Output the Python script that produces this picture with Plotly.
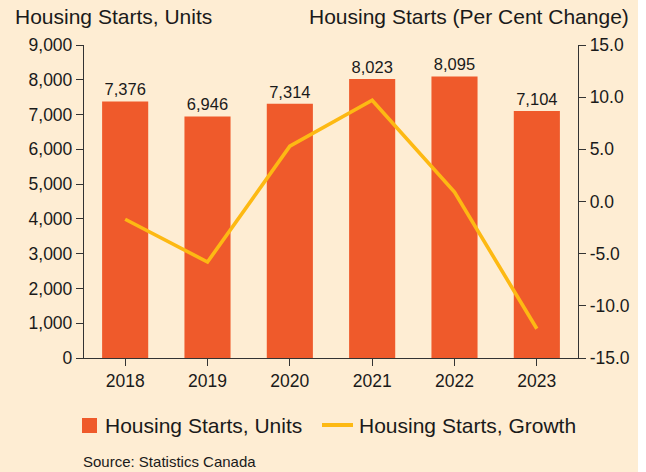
import plotly.graph_objects as go

years = ["2018", "2019", "2020", "2021", "2022", "2023"]
units = [7376, 6946, 7314, 8023, 8095, 7104]
growth = [-1.7, -5.8, 5.3, 9.7, 0.9, -12.2]
right_ticks = [15, 10, 5, 0, -5, -10, -15]
right_tick_labels = ["15.0", "10.0", "5.0", "0.0", "-5.0", "-10.0", "-15.0"]

FONT = "Liberation Sans, Arial, sans-serif"
BG = "#FEEDD3"
BAR = "#EF5A2B"
LINE = "#FDB913"
AX = "#333333"
TXT = "#1a1a1a"

W, H = 646, 472
L, R, T, B = 84, 68, 45, 114
PW, PH = W - L - R, H - T - B


def px_x(p):
    return (p - L) / PW


def px_y(p):
    return (H - B - p) / PH


fig = go.Figure()
fig.add_trace(go.Bar(
    x=years, y=units, name="Housing Starts, Units",
    marker=dict(color=BAR, line=dict(width=0)),
    width=0.56,
    text=[f"{v:,}" for v in units], textposition="outside",
    textfont=dict(family=FONT, size=16.5, color=TXT),
    cliponaxis=False, showlegend=False,
))
fig.add_trace(go.Scatter(
    x=years, y=growth, name="Housing Starts, Growth", yaxis="y2",
    mode="lines", line=dict(color=LINE, width=3.6), showlegend=False,
))

axis_common = dict(showline=True, linecolor=AX, linewidth=1.3, ticks="outside",
                   ticklen=7, tickcolor=AX, tickwidth=1.3, showgrid=False, zeroline=False,
                   automargin=False,
                   tickfont=dict(family=FONT, size=17.5, color=TXT))

shapes = [
    # custom legend
    dict(type="rect", xref="paper", yref="paper", x0=px_x(82), x1=px_x(97),
         y0=px_y(418), y1=px_y(433), fillcolor=BAR, line=dict(width=0)),
    dict(type="line", xref="paper", yref="paper", x0=px_x(322), x1=px_x(353),
         y0=px_y(425), y1=px_y(425), line=dict(color=LINE, width=4)),
    # white strip at right edge
    dict(type="rect", xref="paper", yref="paper", x0=px_x(638), x1=px_x(650),
         y0=px_y(-5), y1=px_y(480), fillcolor="white", line=dict(width=0), layer="below"),
]

fig.update_layout(
    template="none",
    width=W, height=H,
    margin=dict(l=L, r=R, t=T, b=B, autoexpand=False),
    paper_bgcolor=BG, plot_bgcolor=BG,
    font=dict(family=FONT, color=TXT),
    xaxis=dict(**axis_common, type="category", range=[-0.5, 5.5]),
    yaxis=dict(**axis_common, range=[0, 9000], dtick=1000, tickformat=","),
    yaxis2=dict(**axis_common, overlaying="y", side="right", range=[-15, 15],
                tickvals=right_ticks, ticktext=right_tick_labels),
    showlegend=False,
    bargap=0.44,
    shapes=shapes,
    annotations=[
        dict(text="Housing Starts, Units", xref="paper", yref="paper", x=px_x(13), y=px_y(17),
             xanchor="left", yanchor="middle", showarrow=False,
             font=dict(family=FONT, size=21, color=TXT)),
        dict(text="Housing Starts (Per Cent Change)", xref="paper", yref="paper", x=px_x(631), y=px_y(17),
             xanchor="right", yanchor="middle", showarrow=False,
             font=dict(family=FONT, size=21, color=TXT)),
        dict(text="Housing Starts, Units", xref="paper", yref="paper", x=px_x(103), y=px_y(425),
             xanchor="left", yanchor="middle", showarrow=False,
             font=dict(family=FONT, size=21, color=TXT)),
        dict(text="Housing Starts, Growth", xref="paper", yref="paper", x=px_x(357), y=px_y(425),
             xanchor="left", yanchor="middle", showarrow=False,
             font=dict(family=FONT, size=21, color=TXT)),
        dict(text="Source: Statistics Canada", xref="paper", yref="paper", x=px_x(81), y=px_y(462),
             xanchor="left", yanchor="middle", showarrow=False,
             font=dict(family=FONT, size=15, color=TXT)),
    ],
)

fig.write_html("out.html", config={"displayModeBar": False},
               post_script="document.body.style.margin='0';document.body.style.padding='0';")
